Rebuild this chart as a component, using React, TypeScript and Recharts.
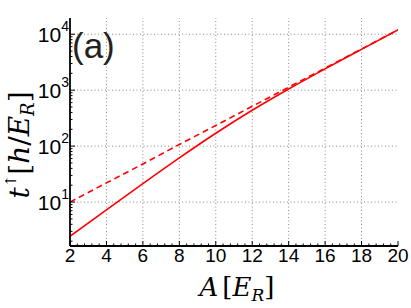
import React from "react";
import { LineChart, Line, XAxis, YAxis, ReferenceLine } from "recharts";

const aValues = [2, 4, 6, 8, 10, 12, 14, 16, 18, 20];
const solidT = [2.45, 7.24, 21.4, 61.7, 170, 437, 1047, 2400, 5370, 12000];
const dashedT = [10, 22, 48, 107, 234, 515, 1130, 2480, 5450, 12000];

const xMajor = [2, 4, 6, 8, 10, 12, 14, 16, 18, 20];
const xGrid = [4, 6, 8, 10, 12, 14, 16, 18];
const yDecades = [10, 100, 1000, 10000];
const yDomain = [1.64, 19500];
const xMinorStep = 0.4;

const data = aValues.map((a, i) => ({ a, solid: solidT[i], dashed: dashedT[i] }));

// ticks every 0.4 on x, 2..9 per decade on y (matlab style)
const xTicks: number[] = [];
for (let i = 0; i <= Math.round((20 - 2) / xMinorStep); i++) {
  xTicks.push(+(2 + i * xMinorStep).toFixed(2));
}
const yTicks: number[] = [];
for (let e = 0; e <= 4; e++) {
  for (let m = 1; m <= 9; m++) {
    const v = m * Math.pow(10, e);
    if (v >= yDomain[0] && v <= yDomain[1]) yTicks.push(v);
  }
}

const isMajorX = (v: number) => xMajor.some((m) => Math.abs(m - v) < 1e-6);
const isDecade = (v: number) => yDecades.includes(v) || v === 1;

const tickFont = "Liberation Sans, Arial, sans-serif";

const BottomTick = (props: any) => {
  const { x, y, payload } = props;
  const major = isMajorX(payload.value);
  return (
    <g>
      <line x1={x} x2={x} y1={y} y2={y - (major ? 5 : 2.5)} stroke="#000" strokeWidth={1} />
      {major && (
        <text x={x} y={y + 16} textAnchor="middle" fontFamily={tickFont} fontSize={19} fill="#000">
          {Math.round(payload.value)}
        </text>
      )}
    </g>
  );
};

const TopTick = (props: any) => {
  const { x, y, payload } = props;
  const major = isMajorX(payload.value);
  return <line x1={x} x2={x} y1={y} y2={y + (major ? 5 : 2.5)} stroke="#000" strokeWidth={1} />;
};

const LeftTick = (props: any) => {
  const { x, y, payload } = props;
  const major = isDecade(payload.value);
  const exp = Math.round(Math.log10(payload.value));
  return (
    <g>
      <line x1={x} x2={x + (major ? 5 : 2.5)} y1={y} y2={y} stroke="#000" strokeWidth={1} />
      {major && (
        <text x={x - 1} y={y + 8} textAnchor="end" fontFamily={tickFont} fontSize={21} fill="#000">
          10
          <tspan fontSize={14} dy={-11}>
            {exp}
          </tspan>
        </text>
      )}
    </g>
  );
};

const RightTick = (props: any) => {
  const { x, y, payload } = props;
  const major = isDecade(payload.value);
  return <line x1={x} x2={x - (major ? 5 : 2.5)} y1={y} y2={y} stroke="#000" strokeWidth={1} />;
};

const axisLine = { stroke: "#000", strokeWidth: 1.8 };
const gridStyle = { stroke: "#8a8a8a", strokeWidth: 1, strokeDasharray: "1 2.5" };

export default function App() {
  return (
    <div style={{ position: "absolute", left: 0, top: 0, width: 411, height: 308, background: "#fff" }}>
      <LineChart width={411} height={308} data={data} margin={{ top: 18, right: 13, bottom: 0, left: 0 }}>
        <XAxis
          xAxisId="b"
          dataKey="a"
          type="number"
          domain={[2, 20]}
          allowDataOverflow
          ticks={xTicks}
          interval={0}
          height={62}
          tickSize={0}
          tickMargin={0}
          tickLine={false}
          axisLine={axisLine}
          tick={<BottomTick />}
        />
        <XAxis
          xAxisId="t"
          orientation="top"
          type="number"
          domain={[2, 20]}
          allowDataOverflow
          ticks={xTicks}
          interval={0}
          height={0}
          tickSize={0}
          tickMargin={0}
          tickLine={false}
          axisLine={axisLine}
          tick={<TopTick />}
        />
        <YAxis
          yAxisId="l"
          type="number"
          scale="log"
          domain={yDomain}
          allowDataOverflow
          ticks={yTicks}
          interval={0}
          width={70}
          tickSize={0}
          tickMargin={0}
          tickLine={false}
          axisLine={axisLine}
          tick={<LeftTick />}
        />
        <YAxis
          yAxisId="r"
          orientation="right"
          type="number"
          scale="log"
          domain={yDomain}
          allowDataOverflow
          ticks={yTicks}
          interval={0}
          width={0}
          tickSize={0}
          tickMargin={0}
          tickLine={false}
          axisLine={axisLine}
          tick={<RightTick />}
        />
        {xGrid.map((v) => (
          <ReferenceLine key={"gx" + v} xAxisId="b" yAxisId="l" x={v} {...gridStyle} />
        ))}
        {yDecades.map((v) => (
          <ReferenceLine key={"gy" + v} xAxisId="b" yAxisId="l" y={v} {...gridStyle} />
        ))}
        <Line
          xAxisId="b"
          yAxisId="l"
          dataKey="dashed"
          type="linear"
          stroke="#ff0000"
          strokeWidth={1.6}
          strokeDasharray="6 4"
          dot={false}
          isAnimationActive={false}
        />
        <Line
          xAxisId="b"
          yAxisId="l"
          dataKey="solid"
          type="monotone"
          stroke="#ff0000"
          strokeWidth={1.6}
          dot={false}
          isAnimationActive={false}
        />
      </LineChart>
      <svg width={411} height={308} style={{ position: "absolute", left: 0, top: 0, pointerEvents: "none" }}>
        <text x={72} y={58} fontFamily={tickFont} fontSize={35} fill="#222">
          (a)
        </text>
        <text
          transform="translate(29,145) rotate(-90)"
          textAnchor="middle"
          fontFamily="DejaVu Serif, serif"
          fontSize={28}
          fill="#000"
        >
          <tspan fontStyle="italic">t</tspan>
          <tspan fontSize={15} dy={-13}>↑</tspan>
          <tspan dy={13}>[</tspan>
          <tspan fontStyle="italic">h</tspan>
          <tspan>/</tspan>
          <tspan fontStyle="italic">E</tspan>
          <tspan fontStyle="italic" fontSize={18} dy={5}>R</tspan>
          <tspan dy={-5}>]</tspan>
        </text>
        <text x={237} y={296} textAnchor="middle" fontFamily="DejaVu Serif, serif" fontSize={26} fill="#000">
          <tspan fontStyle="italic">A</tspan>
          <tspan dx={4}>[</tspan>
          <tspan fontStyle="italic">E</tspan>
          <tspan fontStyle="italic" fontSize={17} dy={5}>R</tspan>
          <tspan dy={-5}>]</tspan>
        </text>
      </svg>
    </div>
  );
}
